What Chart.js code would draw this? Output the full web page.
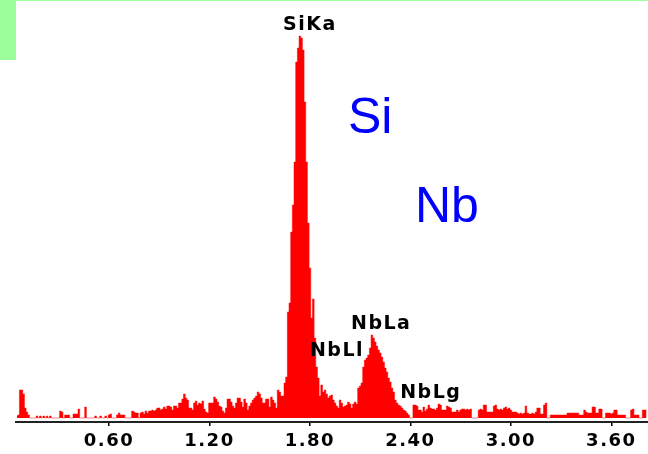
<!DOCTYPE html>
<html>
<head>
<meta charset="utf-8">
<script src="https://cdn.jsdelivr.net/npm/chart.js@4/dist/chart.umd.min.js"></script>
<style>
  html, body { margin: 0; padding: 0; background: #fff; }
  #wrap { width: 648px; height: 454px; }
</style>
</head>
<body>
<div id="wrap"><canvas id="spectrum" width="648" height="454"></canvas></div>
<script>
// === DATA ===
// channel energies in keV, counts (10 eV per channel)
const channelStart = 0.05;
const channelWidth = 0.01;
const counts = [
    2, 3, 28, 28, 24, 10, 6, 3, 0, 0,          // 0.05
    0, 0, 2, 0, 2, 0, 2, 0, 2, 0,              // 0.15
    2, 0, 0, 0, 0, 0, 7, 6, 0, 3,              // 0.25
    3, 3, 0, 0, 4, 4, 4, 9, 0, 0,              // 0.35
    0, 11, 0, 0, 0, 0, 0, 2, 0, 0,             // 0.45
    2, 0, 0, 2, 0, 3, 4, 0, 0, 0,              // 0.55
    3, 5, 3, 3, 3, 0, 0, 0, 0, 7,              // 0.65
    6, 5, 5, 0, 5, 6, 4, 7, 5, 7,              // 0.75
    7, 8, 7, 8, 10, 10, 8, 9, 11, 9,           // 0.85
    12, 12, 11, 8, 12, 12, 10, 15, 15, 19,     // 0.95
    24, 20, 18, 10, 10, 8, 15, 17, 13, 15,     // 1.05
    14, 17, 9, 6, 5, 15, 15, 15, 21, 19,       // 1.15
    16, 12, 11, 7, 5, 10, 19, 19, 16, 12,      // 1.25
    10, 15, 20, 20, 16, 11, 19, 15, 8, 12,     // 1.35
    15, 18, 20, 22, 26, 24, 20, 15, 15, 19,    // 1.45
    19, 11, 21, 18, 15, 10, 28, 26, 22, 22,    // 1.55
    35, 41, 106, 115, 186, 213, 256, 356, 370, 382, // 1.65
    380, 368, 316, 256, 195, 150, 100, 119, 80, 51, // 1.75
    40, 22, 33, 26, 28, 24, 20, 22, 23, 18,    // 1.85
    15, 12, 10, 18, 15, 11, 12, 13, 16, 14,    // 1.95
    10, 14, 16, 14, 30, 32, 35, 51, 58, 60,    // 2.05
    63, 70, 83, 80, 76, 72, 68, 65, 61, 56,    // 2.15
    50, 46, 40, 36, 30, 26, 18, 15, 13, 12,    // 2.25
    10, 8, 7, 5, 3, 0, 0, 13, 13, 12,          // 2.35
    8, 8, 6, 11, 7, 9, 13, 10, 9, 9,           // 2.45
    8, 10, 14, 13, 8, 8, 8, 12, 11, 10,        // 2.55
    6, 6, 6, 8, 6, 8, 9, 9, 8, 9,              // 2.65
    8, 9, 0, 0, 0, 0, 8, 9, 8, 13,             // 2.75
    13, 6, 6, 6, 6, 12, 13, 9, 8, 9,           // 2.85
    8, 10, 11, 9, 10, 8, 6, 6, 6, 5,           // 2.95
    4, 5, 4, 5, 12, 5, 4, 4, 5, 4,             // 3.05
    6, 10, 10, 4, 4, 13, 15, 0, 0, 3,          // 3.15
    3, 3, 3, 3, 3, 3, 3, 3, 3, 5,              // 3.25
    5, 5, 5, 5, 5, 5, 3, 3, 3, 8,              // 3.35
    6, 5, 5, 5, 11, 11, 5, 5, 9, 9,            // 3.45
    0, 0, 5, 5, 5, 4, 5, 8, 8, 3,              // 3.55
    3, 3, 3, 3, 0, 0, 0, 8, 9, 3,              // 3.65
    3, 3, 0, 0, 8, 8, 8                        // 3.75
];

const tickValues = [0.6, 1.2, 1.8, 2.4, 3.0, 3.6];
const axisMin = 0.0446;
const axisMax = 3.819;

// peak markers: line name, line energy (keV), label height (counts)
const lineNames = ['SiKa', 'NbLl', 'NbLa', 'NbLg'];
const lineEnergies = [1.740, 1.902, 2.166, 2.462];
const lineLabelHeights = [393, 67, 94, 25];

const elementNames = ['Si', 'Nb'];

const points = counts.map((c, i) => ({ x: channelStart + i * channelWidth, y: c }));

// === PLUGINS ===
const frame = {
    id: 'frame',
    beforeDraw(chart) {
        const ctx = chart.ctx;
        ctx.save();
        ctx.fillStyle = '#9cff9c';
        ctx.fillRect(0, 0, 16, 60);
        ctx.fillRect(0, 0, chart.width, 1);
        ctx.restore();
        // a bit of letter spacing for the bold axis labels
        ctx.letterSpacing = '1.5px';
    }
};

const peakLabels = {
    id: 'peakLabels',
    afterDatasetsDraw(chart) {
        const ctx = chart.ctx;
        const xs = chart.scales.x;
        const ys = chart.scales.y;
        ctx.save();
        ctx.letterSpacing = '1.5px';
        ctx.font = 'bold 19px "DejaVu Sans"';
        ctx.fillStyle = '#000';
        ctx.textAlign = 'center';
        ctx.textBaseline = 'middle';
        lineNames.forEach((name, i) => {
            ctx.fillText(name, xs.getPixelForValue(lineEnergies[i]) + 10, ys.getPixelForValue(lineLabelHeights[i]));
        });

        ctx.letterSpacing = '0px';
        ctx.font = '50px "Liberation Sans"';
        ctx.fillStyle = '#0000ff';
        ctx.textAlign = 'left';
        ctx.textBaseline = 'alphabetic';
        ctx.fillText(elementNames[0], 348, 133);
        ctx.fillText(elementNames[1], 415, 222);
        ctx.restore();
    }
};

// === CHART ===
const spectrumChart = new Chart(document.getElementById('spectrum').getContext('2d'), {
    type: 'line',
    data: {
        datasets: [{
            data: points,
            stepped: 'middle',
            fill: 'origin',
            backgroundColor: '#ff0000',
            borderColor: '#ff0000',
            borderWidth: 0.5,
            pointRadius: 0
        }]
    },
    options: {
        responsive: false,
        animation: false,
        events: [],
        layout: { padding: { left: 16, right: 0, top: 18, bottom: 0 } },
        plugins: {
            legend: { display: false },
            tooltip: { enabled: false }
        },
        scales: {
            x: {
                type: 'linear',
                min: axisMin,
                max: axisMax,
                afterBuildTicks: scale => { scale.ticks = tickValues.map(v => ({ value: v })); },
                afterFit: scale => { scale.height = 32; },
                border: { display: true, color: '#222', width: 2 },
                grid: { drawOnChartArea: false, drawTicks: true, tickLength: 4, color: '#000', lineWidth: 1.5 },
                ticks: {
                    color: '#000',
                    padding: 5,
                    maxRotation: 0,
                    autoSkip: false,
                    font: { size: 18, weight: 'bold', family: '"DejaVu Sans"' },
                    callback: v => v.toFixed(2)
                }
            },
            y: {
                display: false,
                min: -4,
                max: 400
            }
        }
    },
    plugins: [frame, peakLabels]
});
</script>
</body>
</html>
